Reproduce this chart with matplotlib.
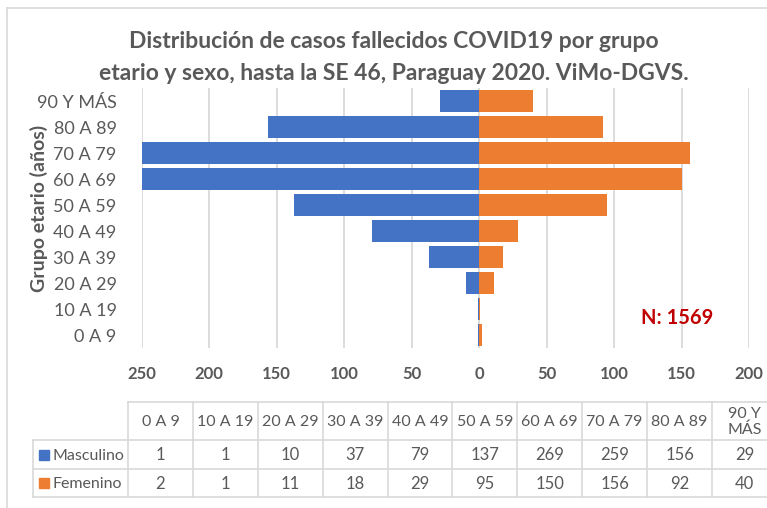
import matplotlib
matplotlib.use("Agg")
import matplotlib.pyplot as plt
from matplotlib.ticker import FuncFormatter
from matplotlib.patches import Rectangle

plt.rcParams['font.family'] = ['Lato', 'DejaVu Sans']

# data
grupos = ["0 A 9", "10 A 19", "20 A 29", "30 A 39", "40 A 49",
          "50 A 59", "60 A 69", "70 A 79", "80 A 89", "90 Y MÁS"]
header_labels = ["0 A 9", "10 A 19", "20 A 29", "30 A 39", "40 A 49",
                 "50 A 59", "60 A 69", "70 A 79", "80 A 89", "90 Y\nMÁS"]
masculino = [1, 1, 10, 37, 79, 137, 269, 259, 156, 29]
femenino = [2, 1, 11, 18, 29, 95, 150, 156, 92, 40]
total_n = 1569

BLUE = "#4472C4"
ORANGE = "#ED7D31"
GRAY = "#595959"
GRID = "#D9D9D9"

W, H = 767, 508
fig = plt.figure(figsize=(W / 100, H / 100), dpi=100)

# background layer in pixel coords (frame + table)
bg = fig.add_axes([0, 0, 1, 1])
bg.set_xlim(0, W)
bg.set_ylim(H, 0)
bg.axis("off")

# light frame of the chart area
bg.plot([7, 7], [8, H], color=GRID, lw=1.2)
bg.plot([7, W], [8, 8], color=GRID, lw=1.2)

# main pyramid
ax = fig.add_axes([141.5 / W, 1 - 348 / H, (749 - 141.5) / W, (348 - 88) / H])
ypos = list(range(len(grupos)))
ax.barh(ypos, [-m for m in masculino], height=0.88, color=BLUE, zorder=3)
ax.barh(ypos, femenino, height=0.88, color=ORANGE, zorder=3)
ax.set_xlim(-250, 200)
ax.set_ylim(-0.5, len(grupos) - 0.5)
ax.set_xticks(range(-250, 201, 50))
ax.xaxis.set_major_formatter(FuncFormatter(lambda v, p: f"{abs(int(v))}"))
ax.grid(axis="x", color=GRID, lw=1.3, zorder=0)
ax.set_axisbelow(True)
ax.set_yticks(ypos)
ax.set_yticklabels(grupos)
for s in ax.spines.values():
    s.set_visible(False)
ax.tick_params(axis="both", length=0)
ax.tick_params(axis="y", pad=18, labelsize=13, labelcolor=GRAY)
ax.tick_params(axis="x", pad=13, labelsize=12, labelcolor=GRAY)
for t in ax.get_xticklabels():
    t.set_fontweight("bold")
ax.set_ylabel("Grupo etario (años)", fontsize=14, fontweight="bold",
              color=GRAY)
ax.yaxis.set_label_coords((39 - 141.5) / (749 - 141.5), 0.535)
ax.yaxis.label.set_va("center")

fig.text(677 / W, 1 - 318 / H, f"N: {total_n}", ha="center", va="center",
         color="#C00000", fontsize=14.5, fontweight="bold")

fig.text(394 / W, 1 - 42 / H, "Distribución de casos fallecidos COVID19 por grupo",
         ha="center", va="center", fontsize=16.5, fontweight="bold", color=GRAY)
fig.text(394 / W, 1 - 73 / H, "etario y sexo, hasta la SE 46, Paraguay 2020. ViMo-DGVS.",
         ha="center", va="center", fontsize=16.5, fontweight="bold", color=GRAY)

# data table
col_left = 128
col_w = (712 - 128) / 9
leg_left = 33
y_top, y_head, y_m, y_f = 402, 440, 469, 497
ncol = len(grupos)
xs = [col_left + i * col_w for i in range(ncol + 1)]
lw_t = 1.2
# horizontal lines
bg.plot([col_left, xs[-1]], [y_top, y_top], color=GRID, lw=lw_t)
for yy in (y_head, y_m, y_f):
    bg.plot([leg_left, xs[-1]], [yy, yy], color=GRID, lw=lw_t)
# vertical lines
for xx in xs:
    bg.plot([xx, xx], [y_top, y_f], color=GRID, lw=lw_t)
bg.plot([leg_left, leg_left], [y_head, y_f], color=GRID, lw=lw_t)

for i in range(ncol):
    cx = xs[i] + col_w / 2
    bg.text(cx, (y_top + y_head) / 2 + 1, header_labels[i], ha="center", va="center",
            fontsize=11.5, color=GRAY, linespacing=1.15)
    bg.text(cx, (y_head + y_m) / 2 + 1, str(masculino[i]), ha="center", va="center",
            fontsize=12, color=GRAY)
    bg.text(cx, (y_m + y_f) / 2 + 1, str(femenino[i]), ha="center", va="center",
            fontsize=12, color=GRAY)

for name, col, y0, y1 in (("Masculino", BLUE, y_head, y_m), ("Femenino", ORANGE, y_m, y_f)):
    cy = (y0 + y1) / 2
    bg.add_patch(Rectangle((39, cy - 5), 10, 10, color=col))
    bg.text(53, cy + 1, name, ha="left", va="center", fontsize=11.5, color=GRAY)

fig.savefig("out.png", dpi=100)
